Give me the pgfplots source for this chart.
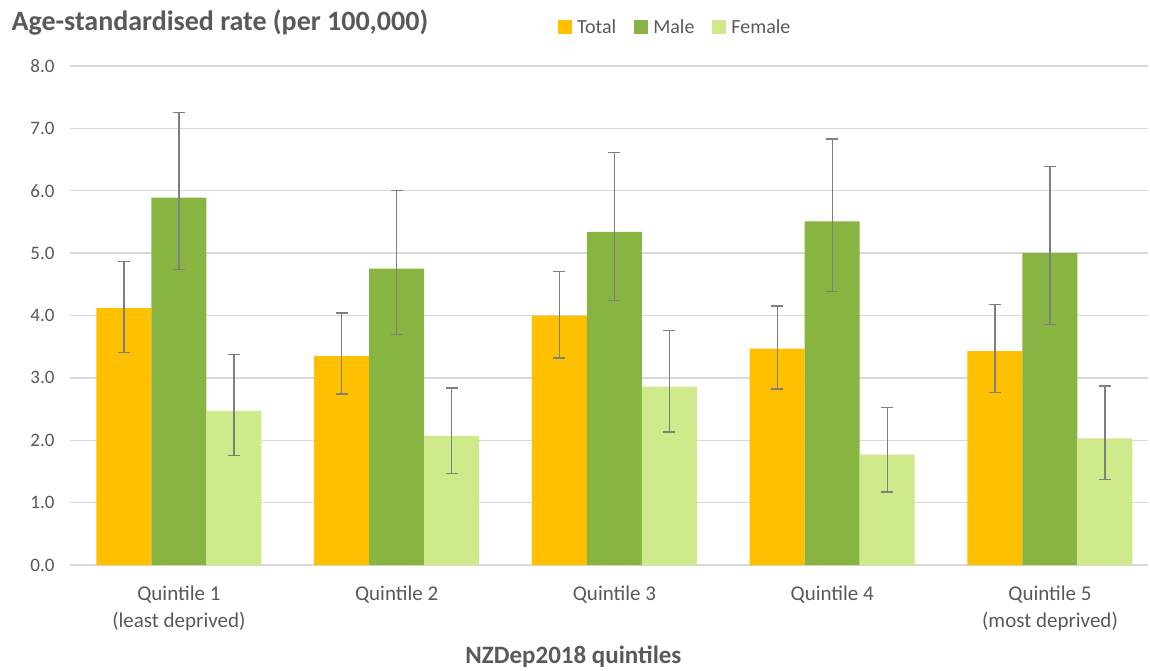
\documentclass[border=0pt]{standalone}
\usepackage{pgfplots}
\pgfplotsset{compat=1.18}
\usepackage{pgfplotstable}
\usepackage{fontspec}
\setmainfont{Carlito}
\definecolor{cTotal}{HTML}{FFC000}
\definecolor{cMale}{HTML}{88B441}
\definecolor{cFemale}{HTML}{CFEA8A}
\definecolor{txt}{HTML}{595959}
\definecolor{gridc}{HTML}{D9D9D9}
\definecolor{errc}{HTML}{7F7F7F}

% x, value, error plus, error minus
\pgfplotstableread{
x  t    tp   tm   m    mp   mm   f    fp   fm
0  4.12 0.75 0.71 5.89 1.37 1.15 2.47 0.90 0.72
1  3.35 0.69 0.61 4.75 1.25 1.06 2.07 0.77 0.60
2  4.00 0.70 0.68 5.34 1.27 1.10 2.86 0.90 0.73
3  3.47 0.68 0.65 5.51 1.32 1.12 1.77 0.75 0.60
4  3.43 0.75 0.67 5.00 1.39 1.14 2.03 0.84 0.66
}\data

\begin{document}
\begin{tikzpicture}
\useasboundingbox (-70pt,-105pt) rectangle (1080pt,565pt);
\begin{axis}[
  scale only axis,
  width=1078pt, height=499pt,
  ymin=0, ymax=8, ytick={0,1,...,8},
  xmin=-0.5, xmax=4.45,
  xtick={0,1,2,3,4},
  xticklabels={{Quintile 1\\(least deprived)},{Quintile 2},{Quintile 3},{Quintile 4},{Quintile 5\\(most deprived)}},
  ybar=0pt, bar width=55pt,
  axis x line*=bottom, axis y line*=left,
  y axis line style={draw=none},
  x axis line style={gridc, line width=1.3pt},
  major tick length=0pt,
  ymajorgrids, grid style={gridc, line width=1.3pt},
  /pgf/number format/.cd, fixed, fixed zerofill, precision=1, assume math mode=true,
  /pgfplots/.cd,
  yticklabel style={font=\fontsize{19}{22}\selectfont, text=txt},
  yticklabel shift=12pt,
  xticklabel style={font=\fontsize{21}{27}\selectfont, text=txt, align=center},
  xticklabel shift=17pt,
  xlabel={NZDep2018 quintiles},
  xlabel style={font=\fontsize{25}{28}\selectfont\bfseries, text=txt, at={(axis description cs:0.467,-0.184)}, anchor=center},
  ylabel={Age-standardised rate (per 100,000)},
  ylabel style={font=\fontsize{28}{30}\selectfont\bfseries, text=txt, rotate=-90, at={(axis description cs:-0.0575,1.088)}, anchor=west},
  legend columns=3,
  legend style={at={(0.5615,1.078)}, anchor=center, draw=none, fill=none,
    font=\fontsize{20}{22}\selectfont, text=txt,
    /tikz/every odd column/.append style={column sep=3pt},
    /tikz/every even column/.append style={column sep=16pt}},
  legend image code/.code={\fill[#1,draw=none] (0pt,-7pt) rectangle (14pt,7pt);},
  error bars/y dir=both, error bars/y explicit,
  error bars/error bar style={errc, line width=1.3pt},
  error bars/error mark options={rotate=90, errc, mark size=6pt, line width=1.3pt},
]
\addplot[fill=cTotal, draw=none] table[x=x, y=t, y error plus=tp, y error minus=tm] {\data};
\addplot[fill=cMale, draw=none] table[x=x, y=m, y error plus=mp, y error minus=mm] {\data};
\addplot[fill=cFemale, draw=none] table[x=x, y=f, y error plus=fp, y error minus=fm] {\data};
\legend{Total, Male, Female}
\end{axis}
\end{tikzpicture}
\end{document}
